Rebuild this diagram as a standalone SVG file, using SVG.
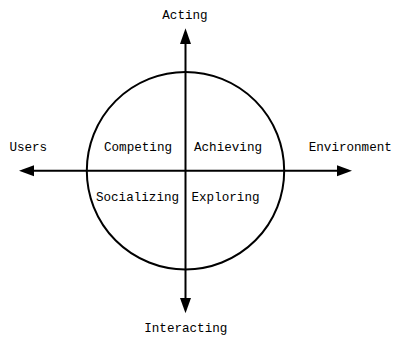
<svg xmlns="http://www.w3.org/2000/svg" width="393" height="337" viewBox="0 0 393 337">
  <style>
    .line { stroke: #000; stroke-width: 2; fill: none; }
    .head { fill: #000; stroke: none; }
    .label { font-family: "Liberation Mono", "DejaVu Sans Mono", monospace; font-size: 12.6px; fill: #000; text-anchor: middle; }
  </style>
  <rect width="393" height="337" fill="#fff"/>
  <g id="circle">
    <circle class="line" cx="185.5" cy="170.7" r="98.7"/>
  </g>
  <g id="axes">
    <line class="line" x1="185.5" y1="40" x2="185.5" y2="302"/>
    <line class="line" x1="30" y1="170.7" x2="340" y2="170.7"/>
    <polygon class="head" points="185.5,28.3 180,44 191,44"/>
    <polygon class="head" points="185.5,313.3 180,298 191,298"/>
    <polygon class="head" points="19,170.7 34,165.2 34,176.2"/>
    <polygon class="head" points="352,170.7 337,165.2 337,176.2"/>
  </g>
  <g id="axis-labels">
    <text class="label" x="185" y="19">Acting</text>
    <text class="label" x="185.8" y="332">Interacting</text>
    <text class="label" x="28.3" y="150.7">Users</text>
    <text class="label" x="350.3" y="150.7">Environment</text>
  </g>
  <g id="quadrants">
    <text class="label" x="138" y="150.7">Competing</text>
    <text class="label" x="228" y="150.7">Achieving</text>
    <text class="label" x="137.5" y="200.5">Socializing</text>
    <text class="label" x="225.5" y="200.5">Exploring</text>
  </g>
</svg>
